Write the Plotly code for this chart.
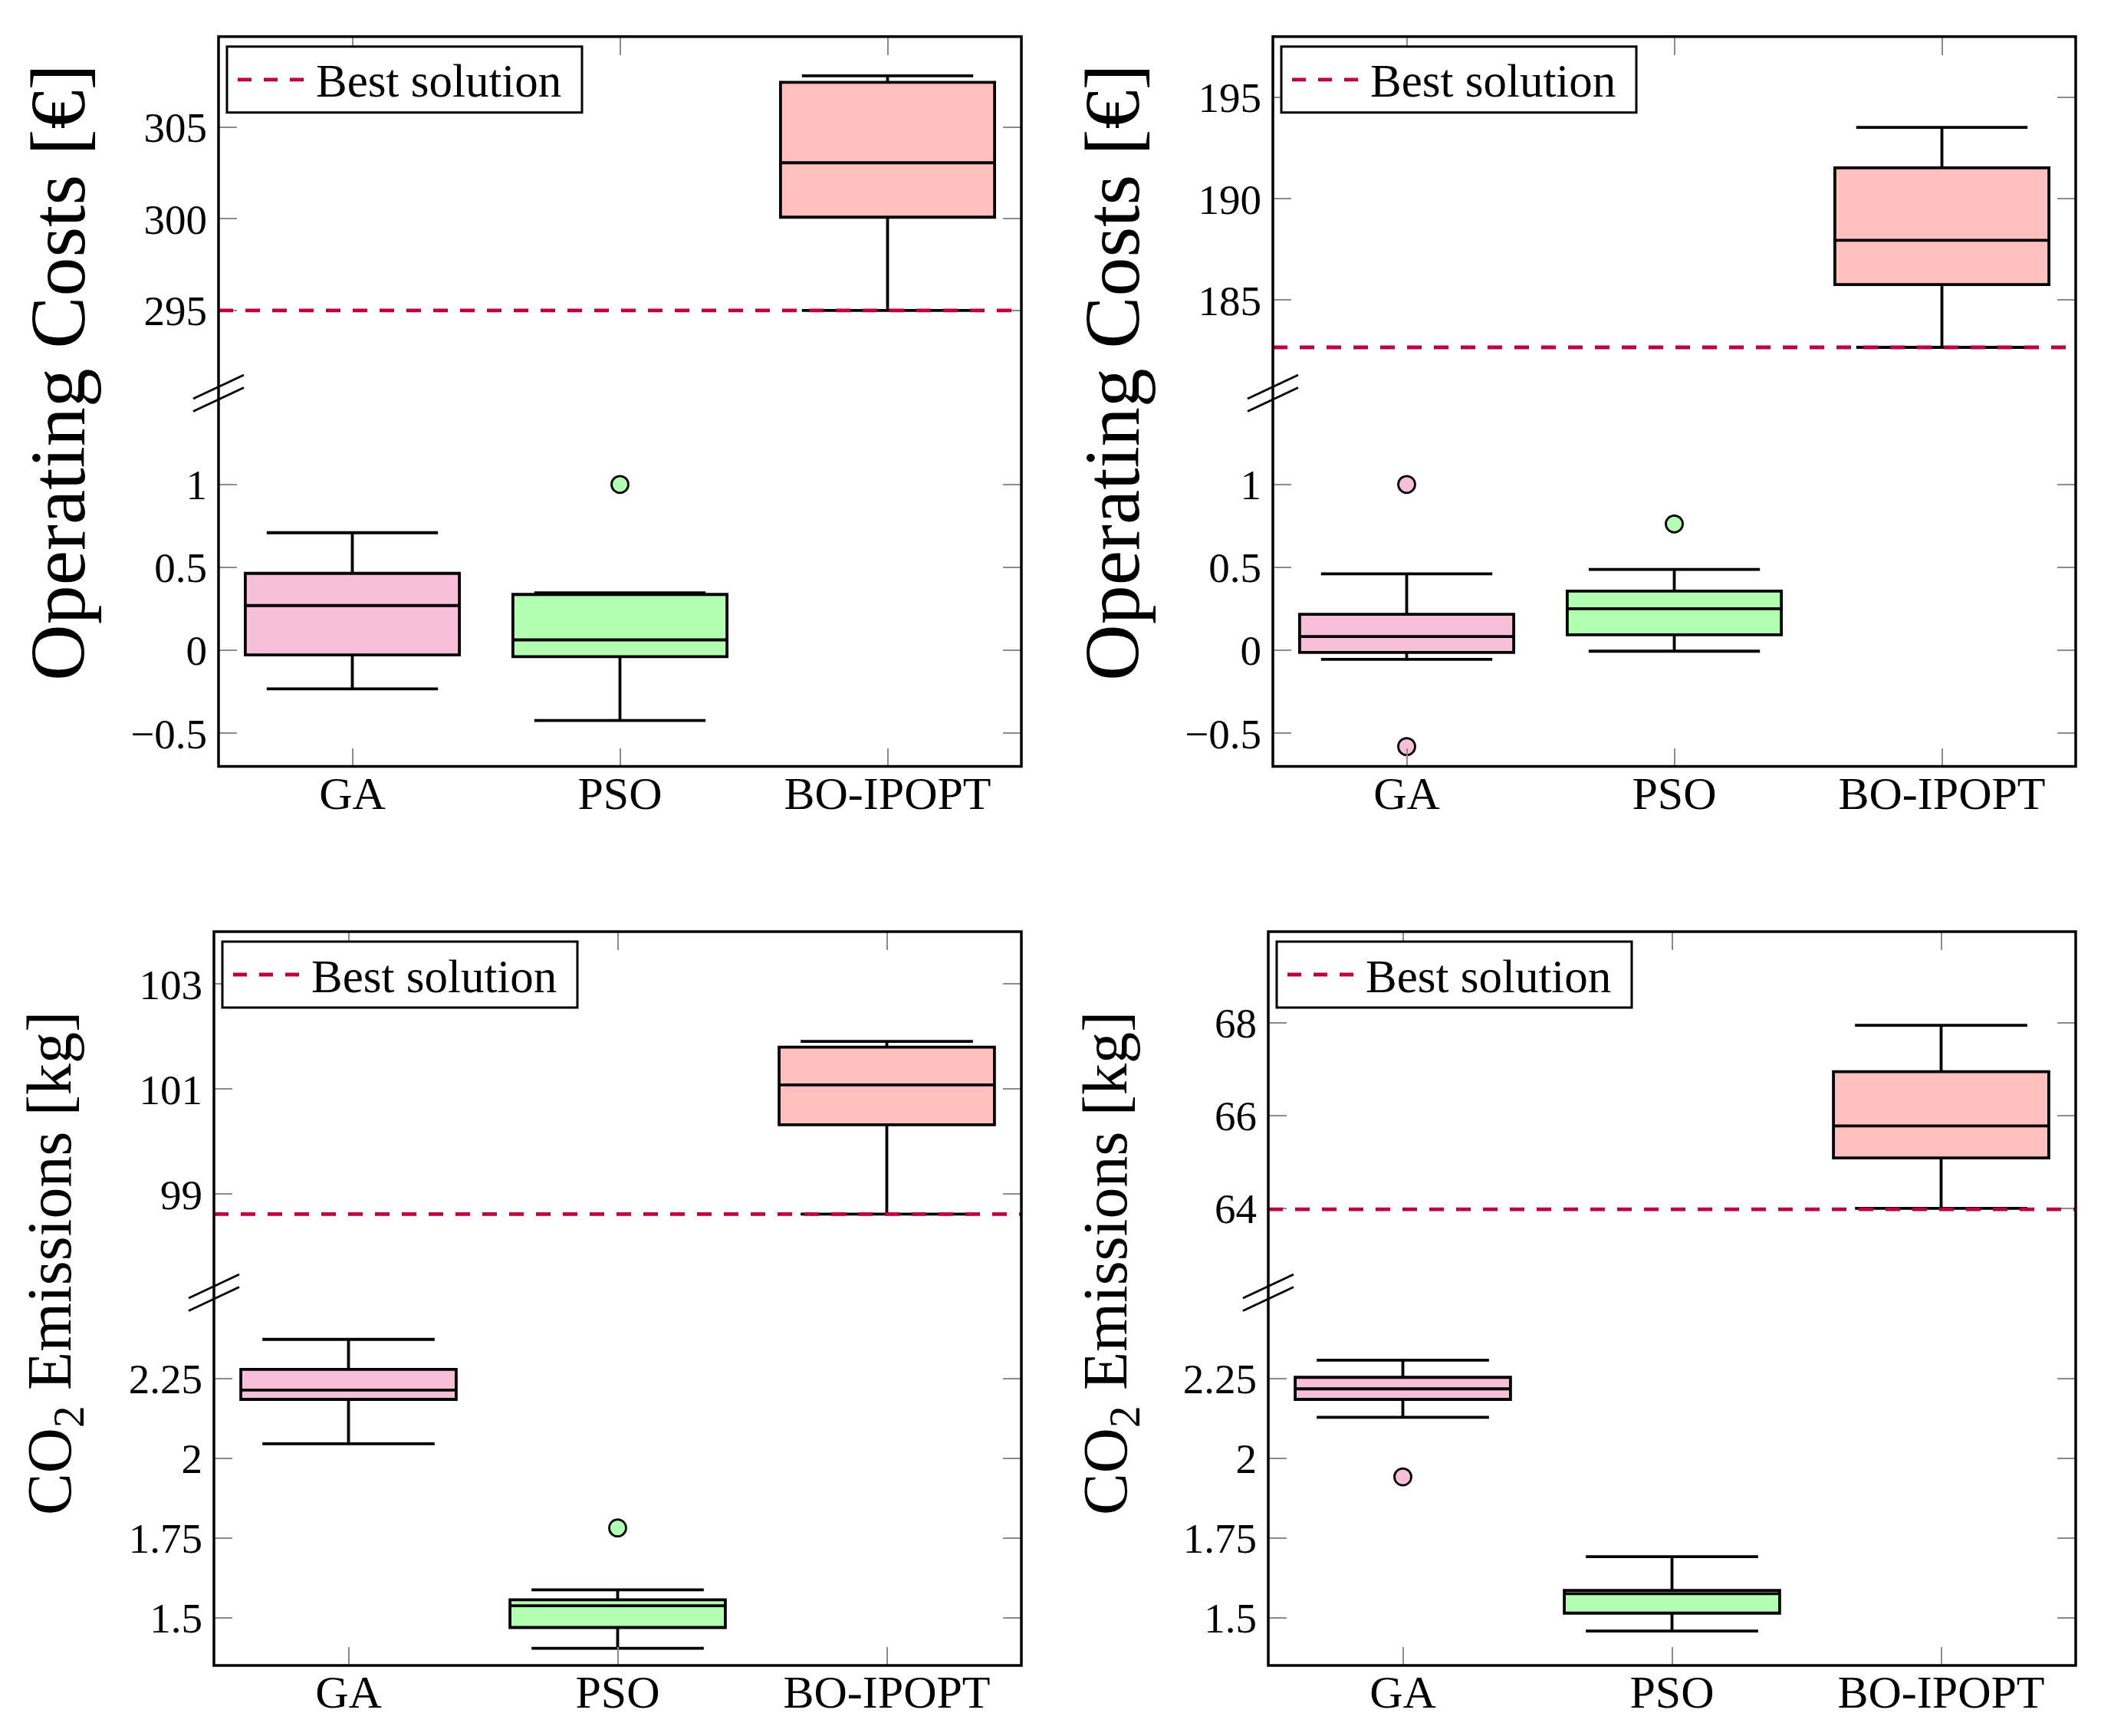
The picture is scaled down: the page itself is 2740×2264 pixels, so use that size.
import plotly.graph_objects as go

W, H = 2740, 2264

cats = ['GA', 'PSO', 'BO-IPOPT']
fills = ['#F7BFD9', '#B3FFB3', '#FFBFBF']
best_color = '#BF0040'

# Operating costs, case 1 (top left). Order: GA, PSO, BO-IPOPT
cost1_lo = [-0.232, -0.423, 295.0]
cost1_q1 = [-0.028, -0.038, 300.09]
cost1_med = [0.270, 0.063, 303.06]
cost1_q3 = [0.464, 0.337, 307.45]
cost1_hi = [0.709, 0.347, 307.80]
cost1_out_x = ['PSO']
cost1_out_y = [1.0]
cost1_best = 295.0

# Operating costs, case 2 (top right)
cost2_lo = [-0.054, -0.005, 182.67]
cost2_q1 = [-0.013, 0.094, 185.77]
cost2_med = [0.083, 0.251, 187.95]
cost2_q3 = [0.217, 0.357, 191.53]
cost2_hi = [0.461, 0.488, 193.52]
cost2_out_x = ['GA', 'GA', 'PSO']
cost2_out_y = [1.0, -0.58, 0.762]
cost2_best = 182.67

# CO2 emissions, case 1 (bottom left)
co2_1_lo = [2.045, 1.404, 98.62]
co2_1_q1 = [2.184, 1.469, 100.32]
co2_1_med = [2.213, 1.537, 101.08]
co2_1_q3 = [2.278, 1.556, 101.80]
co2_1_hi = [2.372, 1.587, 101.91]
co2_1_out_x = ['PSO']
co2_1_out_y = [1.781]
co2_1_best = 98.62

# CO2 emissions, case 2 (bottom right)
co2_2_lo = [2.128, 1.458, 64.0]
co2_2_q1 = [2.184, 1.514, 65.09]
co2_2_med = [2.217, 1.575, 65.78]
co2_2_q3 = [2.253, 1.585, 66.95]
co2_2_hi = [2.307, 1.691, 67.95]
co2_2_out_x = ['GA']
co2_2_out_y = [1.941]
co2_2_best = 63.98

cost_title = 'Operating Costs [€]'
co2_title = 'CO<sub>2</sub> Emissions [kg]'
legend_text = 'Best solution'

# axis ranges / ticks for the broken axes
cost1_upper_range, cost1_upper_ticks = [290.48, 309.94], [295, 300, 305]
cost2_upper_range, cost2_upper_ticks = [180.4, 198.0], [185, 190, 195]
cost_lower_range, cost_lower_ticks = [-0.70, 1.549], [-0.5, 0, 0.5, 1]
co2_1_upper_range, co2_1_upper_ticks = [97.12, 104.0], [99, 101, 103]
co2_2_upper_range, co2_2_upper_ticks = [62.18, 69.97], [64, 66, 68]
co2_lower_range, co2_lower_ticks = [1.35, 2.518], [1.5, 1.75, 2, 2.25]

FONT = 'Liberation Serif'
TICKGRAY = '#8c8c8c'


def px(x):
    return x / W


def py(y):
    return 1 - y / H


def ax_name(k, a):
    return a if k == 1 else f'{a}{k}'


fig = go.Figure()
shapes = []
annots = []


def add_panel(n, box, lo, q1, med, q3, hi, out_x, out_y, best,
              up_range, up_ticks, low_range, low_ticks,
              title, title_size, title_x, title_y):
    left, right, top, bottom, brk = box
    kl, ku = 2 * n + 1, 2 * n + 2
    common_x = dict(domain=[px(left), px(right)], type='category',
                    categoryorder='array', categoryarray=cats,
                    range=[-0.5, 2.5], ticks='inside', ticklen=24,
                    tickwidth=1.5, tickcolor=TICKGRAY, showgrid=False,
                    zeroline=False, showline=False)
    common_y = dict(ticks='inside', ticklen=24, tickwidth=1.5,
                    tickcolor=TICKGRAY, mirror='ticks', showgrid=False,
                    zeroline=False, showline=False, ticklabelstandoff=14,
                    tickfont=dict(size=55, family=FONT, color='black'))
    fig.layout[ax_name(kl, 'xaxis')] = dict(
        common_x, anchor=ax_name(kl, 'y'), side='bottom',
        ticklabelstandoff=-6,
        tickfont=dict(size=60, family=FONT, color='black'))
    fig.layout[ax_name(ku, 'xaxis')] = dict(
        common_x, anchor=ax_name(ku, 'y'), side='top', showticklabels=False)
    fig.layout[ax_name(kl, 'yaxis')] = dict(
        common_y, anchor=ax_name(kl, 'x'), domain=[py(bottom), py(brk)],
        range=low_range, tickvals=low_ticks)
    fig.layout[ax_name(ku, 'yaxis')] = dict(
        common_y, anchor=ax_name(ku, 'x'), domain=[py(brk), py(top)],
        range=up_range, tickvals=up_ticks)

    for i, cat in enumerate(cats):
        k = ku if cat == 'BO-IPOPT' else kl
        fig.add_trace(go.Box(
            x=[cat], q1=[q1[i]], median=[med[i]], q3=[q3[i]],
            lowerfence=[lo[i]], upperfence=[hi[i]],
            width=0.8, whiskerwidth=0.8, fillcolor=fills[i],
            line=dict(color='black', width=3.8), boxpoints=False,
            xaxis=ax_name(k, 'x'), yaxis=ax_name(k, 'y'),
            showlegend=False, hoverinfo='skip'))

    fig.add_trace(go.Scatter(
        x=out_x, y=out_y, mode='markers',
        marker=dict(size=22, color=[fills[cats.index(c)] for c in out_x],
                    line=dict(color='black', width=2.8)),
        xaxis=ax_name(kl, 'x'), yaxis=ax_name(kl, 'y'),
        showlegend=False, hoverinfo='skip'))

    # best solution line across the whole upper part
    shapes.append(dict(type='line', xref=ax_name(ku, 'x') + ' domain',
                       yref=ax_name(ku, 'y'), x0=0, x1=1, y0=best, y1=best,
                       line=dict(color=best_color, width=4.8, dash='19px,16px')))

    # frame
    shapes.append(dict(type='rect', xref='paper', yref='paper',
                       x0=px(left), x1=px(right), y0=py(bottom), y1=py(top),
                       line=dict(color='black', width=3.5)))

    # axis break marks
    for dy in (0, 16.5):
        shapes.append(dict(type='line', xref='paper', yref='paper',
                           x0=px(left - 33), y0=py(brk + 7 + dy),
                           x1=px(left + 33), y1=py(brk - 24 + dy),
                           line=dict(color='black', width=2.8)))

    # legend box
    lx, ly = left + 11, top + 13
    shapes.append(dict(type='rect', xref='paper', yref='paper',
                       x0=px(lx), x1=px(lx + 463), y0=py(ly + 86), y1=py(ly),
                       fillcolor='white', line=dict(color='black', width=3)))
    shapes.append(dict(type='line', xref='paper', yref='paper',
                       x0=px(lx + 14), x1=px(lx + 100),
                       y0=py(ly + 43), y1=py(ly + 43),
                       line=dict(color=best_color, width=4.8, dash='18px,16px')))
    annots.append(dict(text=legend_text, xref='paper', yref='paper',
                       x=px(lx + 114), y=py(ly + 45), xanchor='left',
                       yanchor='middle', showarrow=False,
                       font=dict(size=61, family=FONT, color='black')))

    annots.append(dict(text=title, xref='paper', yref='paper',
                       x=px(title_x), y=py(title_y), textangle=-90,
                       xanchor='center', yanchor='middle', showarrow=False,
                       font=dict(size=title_size, family=FONT, color='black')))


# panel boxes in pixels: left, right, top, bottom, break
add_panel(0, (285, 1332, 47.8, 999.6, 513),
          cost1_lo, cost1_q1, cost1_med, cost1_q3, cost1_hi,
          cost1_out_x, cost1_out_y, cost1_best,
          cost1_upper_range, cost1_upper_ticks, cost_lower_range, cost_lower_ticks,
          cost_title, 102, 76, 486)
add_panel(1, (1660, 2707, 47.8, 999.6, 513),
          cost2_lo, cost2_q1, cost2_med, cost2_q3, cost2_hi,
          cost2_out_x, cost2_out_y, cost2_best,
          cost2_upper_range, cost2_upper_ticks, cost_lower_range, cost_lower_ticks,
          cost_title, 102, 1451, 486)
add_panel(2, (279, 1332, 1215, 2172, 1686),
          co2_1_lo, co2_1_q1, co2_1_med, co2_1_q3, co2_1_hi,
          co2_1_out_x, co2_1_out_y, co2_1_best,
          co2_1_upper_range, co2_1_upper_ticks, co2_lower_range, co2_lower_ticks,
          co2_title, 82, 70, 1648)
add_panel(3, (1654, 2707, 1215, 2172, 1686),
          co2_2_lo, co2_2_q1, co2_2_med, co2_2_q3, co2_2_hi,
          co2_2_out_x, co2_2_out_y, co2_2_best,
          co2_2_upper_range, co2_2_upper_ticks, co2_lower_range, co2_lower_ticks,
          co2_title, 82, 1447, 1648)

fig.update_layout(
    width=W, height=H,
    margin=dict(l=0, r=0, t=0, b=0),
    paper_bgcolor='white', plot_bgcolor='white',
    boxmode='overlay', showlegend=False,
    font=dict(family=FONT, color='black'),
    shapes=shapes, annotations=annots,
)

fig.write_html("out.html",
               config={'displayModeBar': False},
               post_script="document.body.style.margin='0';"
                           "document.body.style.overflow='hidden';")
